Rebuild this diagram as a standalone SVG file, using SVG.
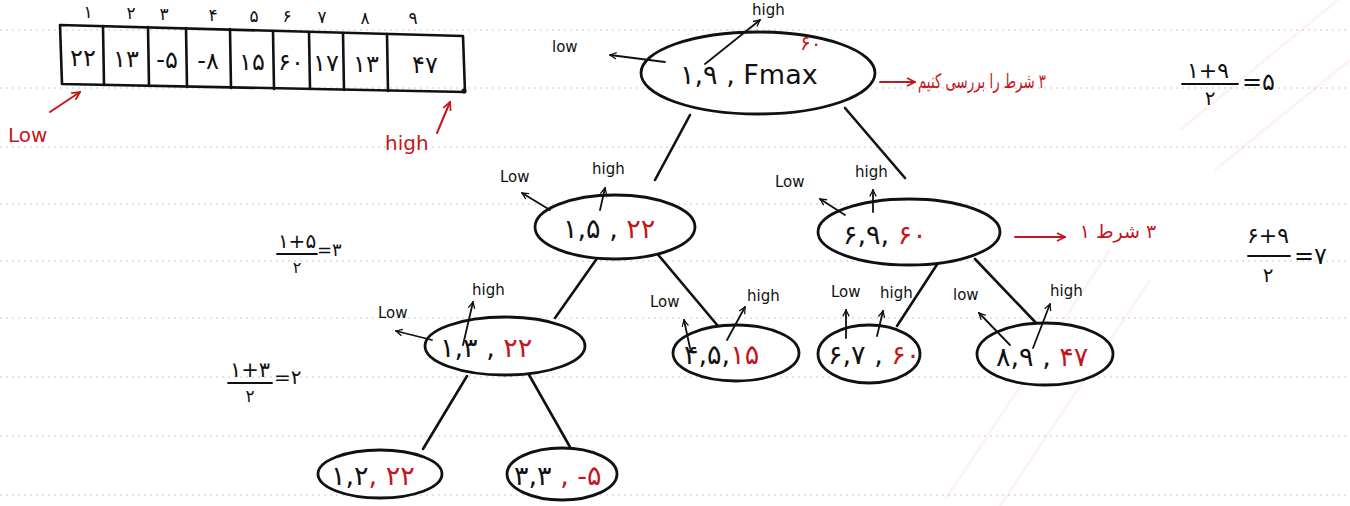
<svg xmlns="http://www.w3.org/2000/svg" width="1350" height="506" viewBox="0 0 1350 506">
  <style>
    .bg { fill: #ffffff; }
    .rule { stroke: #c8c8c8; stroke-width: 1; stroke-dasharray: 2 4; }
    .ink { fill: none; stroke: #111; stroke-width: 2.6; stroke-linecap: round; stroke-linejoin: round; }
    .thin { fill: none; stroke: #111; stroke-width: 1.8; stroke-linecap: round; }
    .redline { fill: none; stroke: #c4161c; stroke-width: 2; stroke-linecap: round; }
    .node { fill: #ffffff; stroke: #111; stroke-width: 2.8; }
    .t { font-family: "DejaVu Sans", "Noto Sans", sans-serif; fill: #111; }
    .val { font-size: 27px; }
    .idx { font-size: 17px; }
    .lbl { font-size: 15px; }
    .red { fill: #c4161c; }
    .fa { direction: rtl; unicode-bidi: embed; }
    .wm { fill: none; stroke: #e31b23; stroke-opacity: 0.05; stroke-width: 3; }
  </style>
  <defs>
    <marker id="open" viewBox="0 0 10 10" refX="9" refY="5" markerWidth="8" markerHeight="8" orient="auto" markerUnits="userSpaceOnUse">
      <path d="M1,1 L9,5 L1,9" fill="none" stroke="#111" stroke-width="1.6"/>
    </marker>
    <marker id="openRed" viewBox="0 0 10 10" refX="9" refY="5" markerWidth="10" markerHeight="10" orient="auto" markerUnits="userSpaceOnUse">
      <path d="M1,1 L9,5 L1,9" fill="none" stroke="#c4161c" stroke-width="1.8"/>
    </marker>
  </defs>

  <rect class="bg" x="0" y="0" width="1350" height="506"/>

  <!-- ruled notebook lines -->
  <g id="paper">
    <line class="rule" x1="0" y1="30" x2="1350" y2="30"/>
    <line class="rule" x1="0" y1="88" x2="1350" y2="88"/>
    <line class="rule" x1="0" y1="147" x2="1350" y2="147"/>
    <line class="rule" x1="0" y1="204" x2="1350" y2="204"/>
    <line class="rule" x1="0" y1="261" x2="1350" y2="261"/>
    <line class="rule" x1="0" y1="318" x2="1350" y2="318"/>
    <line class="rule" x1="0" y1="377" x2="1350" y2="377"/>
    <line class="rule" x1="0" y1="436" x2="1350" y2="436"/>
    <line class="rule" x1="0" y1="495" x2="1350" y2="495"/>
    <!-- faint background mark -->
    <path class="wm" d="M945,500 L1110,250 M1000,506 L1150,280 M1180,130 L1350,-10 M1215,170 L1350,60"/>
  </g>

  <!-- input array with indices -->
  <g id="array">
    <path class="ink" d="M60,25 L463,36 L465,92 L62,84 Z"/>
    <path class="ink" d="M103,26 L104,85 M148,27 L149,86 M186,28 L187,87 M230,29 L231,88 M273,31 L274,89 M309,32 L310,89 M343,33 L344,90 M387,34 L388,91"/>
    <circle cx="464" cy="91" r="2.5" fill="#111"/>
    <g class="t idx" text-anchor="middle">
      <text x="88" y="18">۱</text>
      <text x="131" y="19">۲</text>
      <text x="164" y="20">۳</text>
      <text x="213" y="21">۴</text>
      <text x="254" y="22">۵</text>
      <text x="287" y="22">۶</text>
      <text x="322" y="23">۷</text>
      <text x="365" y="24">۸</text>
      <text x="413" y="24">۹</text>
    </g>
    <g class="t" font-size="24" text-anchor="middle">
      <text x="83" y="66">۲۲</text>
      <text x="126" y="67">۱۳</text>
      <text x="167" y="68">-۵</text>
      <text x="208" y="69">-۸</text>
      <text x="252" y="70">۱۵</text>
      <text x="291" y="70">۶۰</text>
      <text x="326" y="71">۱۷</text>
      <text x="366" y="72">۱۳</text>
      <text x="425" y="73">۴۷</text>
    </g>
    <text class="t red" x="8" y="142" font-size="20">Low</text>
    <line class="redline" x1="50" y1="112" x2="80" y2="92" marker-end="url(#openRed)"/>
    <text class="t red" x="385" y="150" font-size="20">high</text>
    <line class="redline" x1="437" y1="133" x2="450" y2="102" marker-end="url(#openRed)"/>
  </g>

  <!-- tree edges -->
  <g id="edges">
    <line class="ink" x1="690" y1="115" x2="655" y2="180"/>
    <line class="ink" x1="845" y1="108" x2="905" y2="178"/>
    <line class="ink" x1="598" y1="257" x2="555" y2="318"/>
    <line class="ink" x1="655" y1="251" x2="718" y2="326"/>
    <line class="ink" x1="938" y1="263" x2="897" y2="326"/>
    <line class="ink" x1="975" y1="259" x2="1037" y2="324"/>
    <line class="ink" x1="467" y1="376" x2="423" y2="449"/>
    <line class="ink" x1="528" y1="373" x2="570" y2="447"/>
  </g>

  <!-- root: range 1..9 -->
  <g id="n-1-9">
    <ellipse class="node" cx="758" cy="73" rx="117" ry="41"/>
    <text class="t val" x="680" y="84">۱,۹ , Fmax</text>
    <text class="t red" x="800" y="50" font-size="20">۶۰</text>
    <line class="thin" x1="665" y1="62" x2="610" y2="55" marker-end="url(#open)"/>
    <text class="t lbl" x="552" y="52">low</text>
    <line class="thin" x1="705" y1="64" x2="760" y2="20" marker-end="url(#open)"/>
    <text class="t lbl" x="752" y="15">high</text>
    <line class="redline" x1="880" y1="82" x2="915" y2="82" marker-end="url(#openRed)"/>
    <text class="t red fa" x="982" y="88" font-size="20" text-anchor="middle" textLength="128" lengthAdjust="spacingAndGlyphs">۳ شرط را بررسی کنیم</text>
  </g>

  <!-- range 1..5 -->
  <g id="n-1-5">
    <ellipse class="node" cx="615" cy="227" rx="80" ry="32"/>
    <text class="t val" x="563" y="238">۱,۵ , <tspan class="red">۲۲</tspan></text>
    <line class="thin" x1="550" y1="210" x2="522" y2="193" marker-end="url(#open)"/>
    <text class="t lbl" x="500" y="182">Low</text>
    <line class="thin" x1="600" y1="210" x2="605" y2="188" marker-end="url(#open)"/>
    <text class="t lbl" x="592" y="174">high</text>
  </g>

  <!-- range 6..9 -->
  <g id="n-6-9">
    <ellipse class="node" cx="909" cy="232" rx="91" ry="33"/>
    <text class="t val" x="843" y="244">۶,۹, <tspan class="red">۶۰</tspan></text>
    <line class="thin" x1="845" y1="215" x2="820" y2="199" marker-end="url(#open)"/>
    <text class="t lbl" x="775" y="187">Low</text>
    <line class="thin" x1="873" y1="212" x2="873" y2="190" marker-end="url(#open)"/>
    <text class="t lbl" x="855" y="177">high</text>
    <line class="redline" x1="1015" y1="237" x2="1065" y2="237" marker-end="url(#openRed)"/>
    <text class="t red fa" x="1118" y="238" font-size="19" text-anchor="middle">۳ شرط ۱</text>
  </g>

  <!-- range 1..3 -->
  <g id="n-1-3">
    <ellipse class="node" cx="505" cy="346" rx="80" ry="29"/>
    <text class="t val" x="440" y="357">۱,۳ , <tspan class="red">۲۲</tspan></text>
    <line class="thin" x1="432" y1="340" x2="396" y2="331" marker-end="url(#open)"/>
    <text class="t lbl" x="378" y="318">Low</text>
    <line class="thin" x1="463" y1="345" x2="473" y2="302" marker-end="url(#open)"/>
    <text class="t lbl" x="472" y="295">high</text>
  </g>

  <!-- range 4..5 -->
  <g id="n-4-5">
    <ellipse class="node" cx="736" cy="353" rx="63" ry="28"/>
    <text class="t val" x="684" y="364">۴,۵,<tspan class="red">۱۵</tspan></text>
    <line class="thin" x1="690" y1="348" x2="684" y2="320" marker-end="url(#open)"/>
    <text class="t lbl" x="650" y="307">Low</text>
    <line class="thin" x1="727" y1="340" x2="745" y2="307" marker-end="url(#open)"/>
    <text class="t lbl" x="747" y="301">high</text>
  </g>

  <!-- range 6..7 -->
  <g id="n-6-7">
    <ellipse class="node" cx="869" cy="354" rx="51" ry="29"/>
    <text class="t val" x="828" y="364" font-size="23">۶,۷ , <tspan class="red">۶۰</tspan></text>
    <line class="thin" x1="846" y1="338" x2="846" y2="310" marker-end="url(#open)"/>
    <text class="t lbl" x="831" y="297" font-size="13">Low</text>
    <line class="thin" x1="877" y1="336" x2="883" y2="311" marker-end="url(#open)"/>
    <text class="t lbl" x="880" y="298" font-size="13">high</text>
  </g>

  <!-- range 8..9 -->
  <g id="n-8-9">
    <ellipse class="node" cx="1045" cy="354" rx="68" ry="31"/>
    <text class="t val" x="996" y="366">۸,۹ , <tspan class="red">۴۷</tspan></text>
    <line class="thin" x1="1010" y1="345" x2="979" y2="313" marker-end="url(#open)"/>
    <text class="t lbl" x="953" y="300" font-size="13">low</text>
    <line class="thin" x1="1033" y1="348" x2="1050" y2="304" marker-end="url(#open)"/>
    <text class="t lbl" x="1050" y="296" font-size="14">high</text>
  </g>

  <!-- leaf range 1..2 -->
  <g id="n-1-2">
    <ellipse class="node" cx="380" cy="474" rx="62" ry="24"/>
    <text class="t val" x="331" y="485" font-size="25">۱,۲<tspan class="red">, ۲۲</tspan></text>
  </g>

  <!-- leaf range 3..3 -->
  <g id="n-3-3">
    <ellipse class="node" cx="562" cy="474" rx="55" ry="26"/>
    <text class="t val" x="514" y="485" font-size="23">۳,۳<tspan class="red"> , -۵</tspan></text>
  </g>

  <!-- midpoint calculations -->
  <g id="mid-1-9" class="t">
    <text x="1208" y="78" font-size="22" text-anchor="middle">۱+۹</text>
    <line class="thin" x1="1182" y1="84" x2="1238" y2="84"/>
    <text x="1210" y="105" font-size="20" text-anchor="middle">۲</text>
    <text x="1242" y="90" font-size="24">=۵</text>
  </g>
  <g id="mid-6-9" class="t">
    <text x="1268" y="243" font-size="22" text-anchor="middle">۶+۹</text>
    <line class="thin" x1="1248" y1="256" x2="1290" y2="256"/>
    <text x="1268" y="282" font-size="20" text-anchor="middle">۲</text>
    <text x="1294" y="264" font-size="24">=۷</text>
  </g>
  <g id="mid-1-5" class="t">
    <text x="297" y="248" font-size="20" text-anchor="middle">۱+۵</text>
    <line class="thin" x1="277" y1="254" x2="317" y2="254"/>
    <text x="297" y="273" font-size="16" text-anchor="middle">۲</text>
    <text x="317" y="256" font-size="18">=۳</text>
  </g>
  <g id="mid-1-3" class="t">
    <text x="250" y="377" font-size="21" text-anchor="middle">۱+۳</text>
    <line class="thin" x1="228" y1="383" x2="272" y2="383"/>
    <text x="250" y="402" font-size="17" text-anchor="middle">۲</text>
    <text x="274" y="384" font-size="20">=۲</text>
  </g>
</svg>
